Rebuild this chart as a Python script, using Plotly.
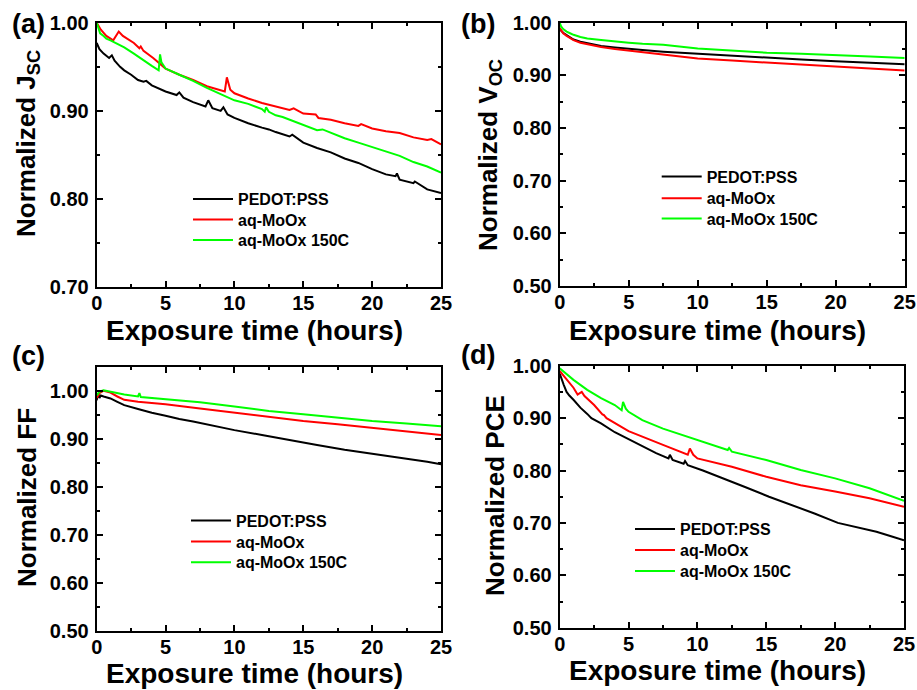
import plotly.graph_objects as go

# ---------------- data ----------------
names = ["PEDOT:PSS", "aq-MoOx", "aq-MoOx 150C"]
colors = ["#000000", "#FF0000", "#00FF00"]

# (a) Normalized Jsc
ta_pedot = [0, 0.2, 0.5, 0.9, 1.1, 1.3, 1.7, 2.0, 2.5, 3.0, 3.4, 3.6, 4.0, 5.0, 5.8, 6.0, 6.3, 7.0, 7.9, 8.1, 8.4,
            9.0, 9.2, 9.5, 10.0, 11.0, 12.0, 12.5, 13.0, 14.0, 14.2, 15.0, 16.0, 17.0, 18.0, 19.0, 20.0, 21.0,
            21.7, 21.8, 22.0, 23.0, 23.1, 24.0, 25.0]
va_pedot = [0.977, 0.970, 0.965, 0.960, 0.963, 0.957, 0.950, 0.946, 0.941, 0.935, 0.933, 0.934, 0.929, 0.922,
            0.918, 0.921, 0.915, 0.910, 0.905, 0.912, 0.903, 0.900, 0.904, 0.896, 0.892, 0.886, 0.881, 0.879,
            0.876, 0.871, 0.873, 0.864, 0.858, 0.853, 0.846, 0.841, 0.834, 0.828, 0.826, 0.829, 0.822, 0.818,
            0.820, 0.811, 0.807]
ta_moox = [0, 0.3, 0.7, 1.2, 1.6, 1.9, 2.7, 3.1, 3.2, 3.4, 4.1, 5.0, 6.0, 7.0, 8.0, 9.3, 9.45, 9.7, 10.0, 11.0,
           12.0, 13.0, 14.0, 14.3, 15.0, 15.9, 16.1, 17.0, 18.0, 19.0, 19.2, 20.0, 21.0, 22.0, 23.0, 24.0, 24.3, 25.0]
va_moox = [1.000, 0.992, 0.985, 0.980, 0.990, 0.985, 0.977, 0.971, 0.973, 0.968, 0.960, 0.948, 0.941, 0.935,
           0.928, 0.922, 0.938, 0.924, 0.920, 0.914, 0.909, 0.905, 0.901, 0.903, 0.897, 0.896, 0.892, 0.890,
           0.886, 0.883, 0.885, 0.880, 0.877, 0.875, 0.870, 0.867, 0.868, 0.862]
ta_m150 = [0, 0.25, 0.5, 0.7, 1.0, 1.5, 2.0, 2.7, 3.5, 4.0, 4.5, 4.6, 4.7, 5.0, 6.0, 7.0, 8.0, 9.0, 10.0, 11.0,
           12.0, 12.2, 12.3, 12.5, 13.0, 13.5, 14.0, 15.0, 16.0, 16.4, 17.0, 18.0, 19.0, 20.0, 21.0, 22.0, 23.0,
           24.0, 25.0]
va_m150 = [1.000, 0.988, 0.985, 0.982, 0.980, 0.976, 0.972, 0.965, 0.956, 0.951, 0.946, 0.964, 0.955, 0.948,
           0.941, 0.934, 0.926, 0.919, 0.912, 0.908, 0.902, 0.899, 0.904, 0.899, 0.895, 0.893, 0.890, 0.884,
           0.878, 0.879, 0.875, 0.869, 0.864, 0.859, 0.854, 0.849, 0.842, 0.837, 0.830]

# (b) Normalized Voc
tb = [0, 0.1, 0.25, 0.5, 0.75, 1, 1.5, 2, 3, 4, 5, 6, 7.5, 10, 12.5, 15, 17.5, 20, 22.5, 25]
vb_pedot = [0.990, 0.985, 0.981, 0.977, 0.972, 0.968, 0.964, 0.961, 0.956, 0.953, 0.950, 0.948, 0.945, 0.941,
            0.937, 0.934, 0.930, 0.927, 0.924, 0.921]
vb_moox = [0.990, 0.985, 0.980, 0.975, 0.971, 0.967, 0.962, 0.959, 0.954, 0.950, 0.947, 0.944, 0.939, 0.932,
           0.928, 0.924, 0.920, 0.916, 0.913, 0.909]
vb_m150 = [1.000, 0.993, 0.988, 0.983, 0.980, 0.977, 0.973, 0.970, 0.967, 0.964, 0.962, 0.960, 0.958, 0.951,
           0.947, 0.943, 0.941, 0.939, 0.936, 0.933]

# (c) Normalized FF
tc_pedot = [0, 0.1, 0.2, 0.3, 0.5, 1, 1.5, 2, 3, 4, 5, 6, 7, 8, 10, 12, 14, 16, 18, 20, 22, 24, 25]
vc_pedot = [0.980, 0.995, 0.985, 0.990, 0.988, 0.984, 0.977, 0.970, 0.962, 0.954, 0.948, 0.941, 0.936, 0.930,
            0.918, 0.908, 0.897, 0.887, 0.877, 0.869, 0.861, 0.852, 0.847]
tc_moox = [0, 0.2, 0.5, 1, 1.5, 2, 3, 5, 7.5, 10, 12.5, 15, 17.5, 20, 22.5, 25]
vc_moox = [0.985, 0.995, 1.000, 0.996, 0.988, 0.981, 0.977, 0.972, 0.963, 0.954, 0.946, 0.937, 0.930, 0.923,
           0.916, 0.908]
tc_m150 = [0, 0.2, 0.5, 1, 2, 3, 3.1, 3.2, 5, 7.5, 10, 12.5, 15, 17.5, 20, 22.5, 25]
vc_m150 = [0.990, 0.998, 1.001, 0.998, 0.992, 0.988, 0.995, 0.987, 0.983, 0.976, 0.967, 0.958, 0.951, 0.944,
           0.937, 0.932, 0.926]

# (d) Normalized PCE
td_pedot = [0, 0.15, 0.3, 0.5, 0.7, 1.0, 1.5, 2.0, 2.3, 3.0, 4.0, 5.0, 5.7, 7.0, 7.9, 8.0, 8.2, 9.0, 9.1, 9.3,
            10.4, 12.0, 13.5, 15.2, 17.0, 18.5, 20.2, 21.5, 23.0, 24.0, 25.0]
vd_pedot = [0.985, 0.972, 0.963, 0.950, 0.943, 0.935, 0.920, 0.908, 0.900, 0.890, 0.873, 0.860, 0.850, 0.833,
            0.823, 0.830, 0.820, 0.813, 0.818, 0.810, 0.800, 0.784, 0.768, 0.750, 0.733, 0.718, 0.700, 0.692,
            0.683, 0.675, 0.667]
td_moox = [0, 0.5, 1.0, 1.3, 1.6, 1.8, 2.5, 3.1, 3.2, 3.4, 5.0, 7.5, 9.3, 9.45, 9.7, 10.0, 12.5, 15.0, 17.5,
           20.0, 22.5, 25.0]
vd_moox = [0.990, 0.973, 0.958, 0.945, 0.950, 0.942, 0.925, 0.907, 0.906, 0.900, 0.875, 0.849, 0.830, 0.842,
           0.830, 0.823, 0.807, 0.788, 0.772, 0.760, 0.747, 0.731]
td_m150 = [0, 0.5, 1.0, 2.0, 3.0, 4.0, 4.5, 4.6, 4.8, 5.0, 6.0, 7.5, 10.0, 12.2, 12.3, 12.5, 15.0, 17.5, 20.0,
           22.5, 25.0]
vd_m150 = [0.995, 0.984, 0.973, 0.954, 0.938, 0.925, 0.915, 0.931, 0.918, 0.912, 0.896, 0.880, 0.858, 0.839,
           0.843, 0.836, 0.820, 0.801, 0.785, 0.766, 0.742]

xticks = [0, 5, 10, 15, 20, 25]
ylabels = ["Normalized J<sub>SC</sub>", "Normalized V<sub>OC</sub>", "Normalized FF", "Normalized PCE"]
xlabel = "Exposure time (hours)"
panel_tags = ["(a)", "(b)", "(c)", "(d)"]

panels = [
    [(ta_pedot, va_pedot), (ta_moox, va_moox), (ta_m150, va_m150)],
    [(tb, vb_pedot), (tb, vb_moox), (tb, vb_m150)],
    [(tc_pedot, vc_pedot), (tc_moox, vc_moox), (tc_m150, vc_m150)],
    [(td_pedot, vd_pedot), (td_moox, vd_moox), (td_m150, vd_m150)],
]
yranges = [[0.70, 1.00], [0.50, 1.00], [0.50, 1.05], [0.50, 1.00]]

# ---------------- layout geometry (pixels) ----------------
W, H = 917, 690
boxes = [  # left, right, top, bottom
    (96.7, 441.0, 22.7, 287.3),
    (559.7, 904.7, 22.7, 286.0),
    (96.7, 441.0, 366.7, 631.0),
    (559.7, 904.0, 365.7, 627.7),
]
# legend: x of line start, y centres of the three entries
legend_geo = [(195, [199, 219.7, 240]), (663.7, [176.7, 198.3, 218.7]),
              (193, [520.7, 541.7, 562.3]), (637, [529, 550, 571])]
xtitle_pos = [(254, 330), (717, 330), (254, 673), (717, 670)]
ytitle_pos = [(27, 144), (489, 155), (27, 498), (495, 496)]
tag_pos = [(28, 24), (478, 24), (28, 356), (478, 355)]

FONT = "Liberation Sans, Arial, sans-serif"

fig = go.Figure()
layout = dict(
    template="none",
    width=W, height=H, margin=dict(l=0, r=0, t=0, b=0, autoexpand=False),
    paper_bgcolor="white", plot_bgcolor="white",
    font=dict(family=FONT, color="black"),
    showlegend=True,
)
for p, series in enumerate(panels):
    sfx = "" if p == 0 else str(p + 1)
    lx, lys = legend_geo[p]
    for s, (t, v) in enumerate(series):
        n = p * 3 + s + 1
        lid = "legend" if n == 1 else "legend%d" % n
        fig.add_trace(go.Scatter(
            x=t, y=v, mode="lines", name=names[s],
            line=dict(color=colors[s], width=2),
            xaxis="x" + sfx, yaxis="y" + sfx,
            legend=lid,
        ))
        layout[lid] = dict(
            x=(lx - 7) / W, y=1 - (lys[s] - 17) / H, xanchor="left", yanchor="top",
            bgcolor="rgba(0,0,0,0)", borderwidth=0,
            font=dict(family=FONT, size=16, color="black", weight="bold"),
            itemwidth=40,
        )

annotations = []
for p in range(4):
    l, r, t, b = boxes[p]
    sfx = "" if p == 0 else str(p + 1)
    axis_common = dict(
        showline=True, linecolor="black", linewidth=2, mirror="allticks",
        ticks="inside", ticklen=6, tickwidth=2, tickcolor="black",
        showgrid=False, zeroline=False, automargin=False,
        tickfont=dict(family=FONT, size=20, color="black", weight="bold"),
    )
    layout["xaxis" + sfx] = dict(
        axis_common, domain=[l / W, r / W], range=[0, 25], tickvals=xticks,
        anchor="y" + sfx, ticklabelstandoff=-3,
        minor=dict(ticks="inside", ticklen=3, tickwidth=2, tickcolor="black", dtick=2.5, showgrid=False),
    )
    layout["yaxis" + sfx] = dict(
        axis_common, domain=[1 - b / H, 1 - t / H], range=yranges[p], dtick=0.1, tick0=0.5,
        tickformat=".2f", anchor="x" + sfx, ticklabelstandoff=2,
        minor=dict(ticks="inside", ticklen=3, tickwidth=2, tickcolor="black", dtick=0.05, showgrid=False),
    )
    xx, xy = xtitle_pos[p]
    annotations.append(dict(
        text=xlabel, x=xx / W, y=1 - xy / H, xref="paper", yref="paper",
        showarrow=False, xanchor="center", yanchor="middle",
        font=dict(family=FONT, size=28, color="black", weight="bold"),
    ))
    yx, yy = ytitle_pos[p]
    annotations.append(dict(
        text=ylabels[p], x=yx / W, y=1 - yy / H, xref="paper", yref="paper",
        showarrow=False, xanchor="center", yanchor="middle", textangle=-90,
        font=dict(family=FONT, size=26, color="black", weight="bold"),
    ))
    tx, ty = tag_pos[p]
    annotations.append(dict(
        text=panel_tags[p], x=tx / W, y=1 - ty / H, xref="paper", yref="paper",
        showarrow=False, xanchor="center", yanchor="middle",
        font=dict(family=FONT, size=27, color="black", weight="bold"),
    ))
layout["annotations"] = annotations
fig.update_layout(**layout)
fig.write_html("out.html",
               config={"displayModeBar": False},
               post_script="document.body.style.margin='0px';document.body.style.overflow='hidden';")
